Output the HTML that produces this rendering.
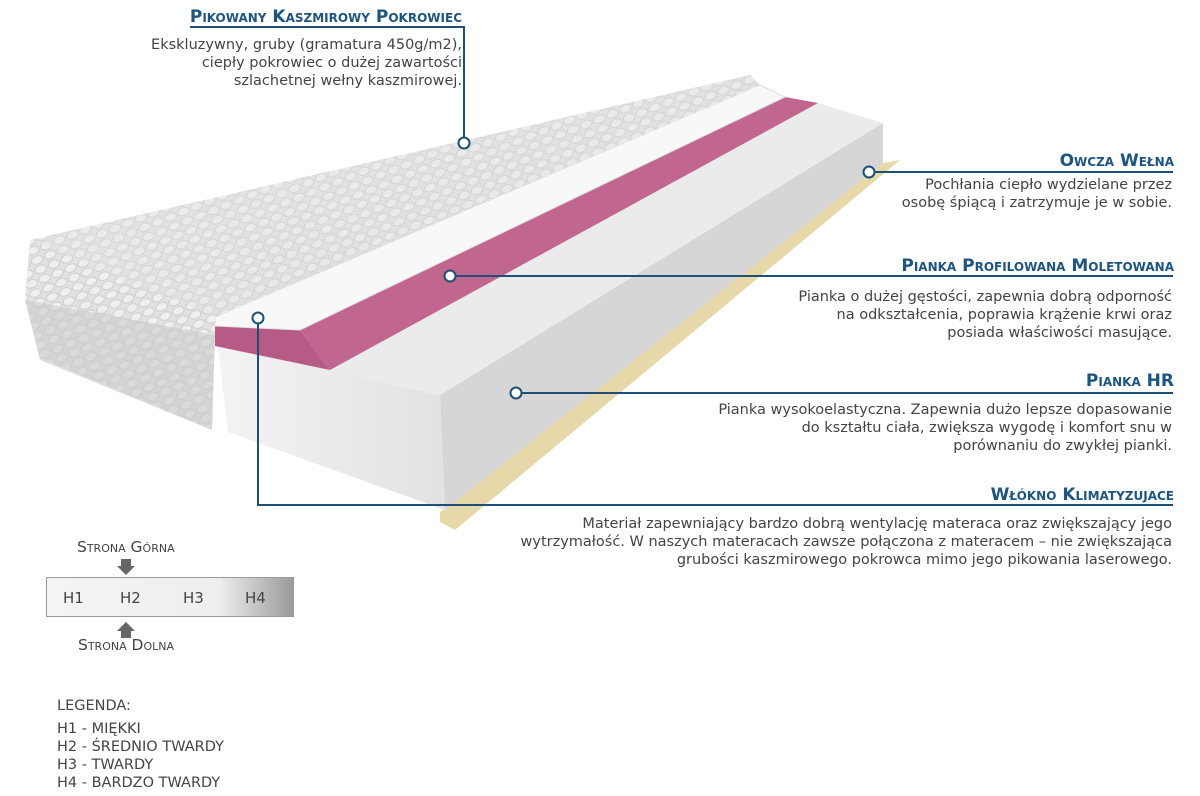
<!DOCTYPE html>
<html><head><meta charset="utf-8"><style>
html,body{margin:0;padding:0;background:#fff;}
#c{position:relative;width:1200px;height:796px;overflow:hidden;font-family:"DejaVu Sans","Liberation Sans",sans-serif;}
.t{position:absolute;font-weight:bold;font-variant:small-caps;color:#1d5480;font-size:17px;white-space:nowrap;text-align:right;}
.d{position:absolute;color:#444;font-size:14.5px;line-height:18px;text-align:right;white-space:nowrap;}
.l{position:absolute;color:#444;white-space:nowrap;}
</style></head><body><div id="c">
<svg width="1200" height="796" style="position:absolute;left:0;top:0">
<defs>
<linearGradient id="cov" x1="0" y1="0" x2="1" y2="1"><stop offset="0" stop-color="#ececec"/><stop offset="1" stop-color="#d4d4d4"/></linearGradient>
<linearGradient id="side" x1="0" y1="0" x2="1" y2="0"><stop offset="0" stop-color="#f3f3f3"/><stop offset="1" stop-color="#e2e2e2"/></linearGradient>
<linearGradient id="lg" x1="0" y1="0" x2="1" y2="0"><stop offset="0" stop-color="#f4f4f4"/><stop offset=".7" stop-color="#eee"/><stop offset="1" stop-color="#9a9a9a"/></linearGradient>
<pattern id="q" width="14" height="10" patternUnits="userSpaceOnUse" patternTransform="rotate(-22)"><rect width="14" height="10" fill="#e2e2e2"/><ellipse cx="7" cy="5" rx="6" ry="4" fill="#efefef" stroke="#cdcdcd" stroke-width="1"/></pattern>
</defs>
<!-- wool layer -->
<polygon points="440,512 883,163 900,160 455,530 440,522" fill="#e6d8a8"/>
<!-- foam block -->
<polygon points="218,345 440,395 445,510 228,432" fill="url(#side)"/>
<polygon points="440,395 883,123 883,163 445,510" fill="#d6d6d6"/>
<polygon points="330,370 818,103 883,123 440,395" fill="#ebebeb"/>
<!-- pink layer -->
<polygon points="300,330 785,97 818,103 330,370" fill="#c0668f"/>
<polygon points="215,325 300,330 330,370 215,346" fill="#b65a86"/>
<!-- white sheet -->
<polygon points="215,317 760,85 785,97 300,330 215,326" fill="#f8f8f8" stroke="#e0e0e0"/>
<!-- cover -->
<polygon points="30,240 750,75 760,85 215,317 215,330 212,430 40,358 25,300" fill="url(#q)"/>
<polygon points="25,300 215,335 212,430 40,360" fill="#cccccc" opacity=".6"/>
<polygon points="30,240 750,75 760,85 215,317" fill="url(#cov)" opacity=".35"/>
<!-- connectors -->
<g stroke="#1f4f75" stroke-width="2" fill="none">
<polyline points="190,27 464,27 464,137"/>
<line x1="875" y1="172" x2="1173" y2="172"/>
<line x1="456" y1="276" x2="1173" y2="276"/>
<line x1="522" y1="393" x2="1173" y2="393"/>
<polyline points="258,324 258,505 1173,505"/>
</g>
<g stroke="#1f4f75" stroke-width="2" fill="#fff">
<circle cx="464" cy="143" r="5.5"/><circle cx="869" cy="172" r="5.5"/><circle cx="450" cy="276" r="5.5"/><circle cx="516" cy="393" r="5.5"/><circle cx="258" cy="318" r="5.5"/>
</g>
<!-- legend box -->
<rect x="46.5" y="577.5" width="247" height="39" fill="url(#lg)" stroke="#999"/>
<polygon points="121,559 131,559 131,566 135,566 126,575 117,566 121,566" fill="#666"/>
<polygon points="121,638 131,638 131,631 135,631 126,622 117,631 121,631" fill="#666"/>
</svg>
<div class="t" style="right:738px;top:7px">Pikowany Kaszmirowy Pokrowiec</div>
<div class="d" style="right:738px;top:36px">Ekskluzywny, gruby (gramatura 450g/m2),<br>ciepły pokrowiec o dużej zawartości<br>szlachetnej wełny kaszmirowej.</div>
<div class="t" style="right:26px;top:151px">Owcza Wełna</div>
<div class="d" style="right:28px;top:176px">Pochłania ciepło wydzielane przez<br>osobę śpiącą i zatrzymuje je w sobie.</div>
<div class="t" style="right:26px;top:256px">Pianka Profilowana Moletowana</div>
<div class="d" style="right:28px;top:288px">Pianka o dużej gęstości, zapewnia dobrą odporność<br>na odkształcenia, poprawia krążenie krwi oraz<br>posiada właściwości masujące.</div>
<div class="t" style="right:26px;top:371px">Pianka HR</div>
<div class="d" style="right:28px;top:401px">Pianka wysokoelastyczna. Zapewnia dużo lepsze dopasowanie<br>do kształtu ciała, zwiększa wygodę i komfort snu w<br>porównaniu do zwykłej pianki.</div>
<div class="t" style="right:26px;top:485px">Włókno Klimatyzujace</div>
<div class="d" style="right:28px;top:515px">Materiał zapewniający bardzo dobrą wentylację materaca oraz zwiększający jego<br>wytrzymałość. W naszych materacach zawsze połączona z materacem – nie zwiększająca<br>grubości kaszmirowego pokrowca mimo jego pikowania laserowego.</div>
<div class="l" style="left:77px;top:538px;font-variant:small-caps;font-size:15.5px">Strona Górna</div>
<div class="l" style="left:78px;top:636px;font-variant:small-caps;font-size:15.5px">Strona Dolna</div>
<div class="l" style="left:63px;top:589px;font-size:15px">H1</div>
<div class="l" style="left:120px;top:589px;font-size:15px">H2</div>
<div class="l" style="left:183px;top:589px;font-size:15px">H3</div>
<div class="l" style="left:245px;top:589px;font-size:15px">H4</div>
<div class="l" style="left:57px;top:697px;font-size:14.5px;line-height:18px">LEGENDA:</div>
<div class="l" style="left:57px;top:720px;font-size:14.5px;line-height:18px">H1 - MIĘKKI<br>H2 - ŚREDNIO TWARDY<br>H3 - TWARDY<br>H4 - BARDZO TWARDY</div>
</div></body></html>
